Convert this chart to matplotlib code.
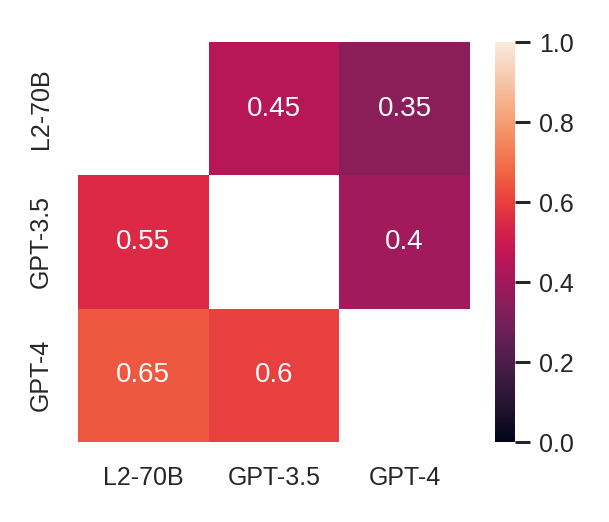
import numpy as np
import matplotlib
matplotlib.use("Agg")
import matplotlib.pyplot as plt
import seaborn as sns

labels = ["L2-70B", "GPT-3.5", "GPT-4"]
values = [
    [np.nan, 0.45, 0.35],
    [0.55, np.nan, 0.4],
    [0.65, 0.6, np.nan],
]

sns.set_theme(style="white")
plt.rcParams["font.family"] = ["Liberation Sans", "DejaVu Sans"]

data = np.array(values)
mask = np.isnan(data)

fig = plt.figure(figsize=(6.09, 5.22), dpi=100)
ax = fig.add_axes([78 / 609, 80 / 522, 392 / 609, 400 / 522])
cax = fig.add_axes([495 / 609, 80 / 522, 20 / 609, 400 / 522])

sns.heatmap(data, mask=mask, annot=True, fmt="g", cmap="rocket", vmin=0, vmax=1,
            xticklabels=labels, yticklabels=labels, ax=ax, cbar_ax=cax,
            annot_kws={"size": 20, "color": "white"})

ax.tick_params(axis="both", length=0, labelsize=18, colors=".15")
ax.tick_params(axis="x", pad=17)
ax.tick_params(axis="y", pad=18)
ax.set_yticklabels(labels, rotation=90, va="center")

cax.yaxis.set_ticks([0, 0.2, 0.4, 0.6, 0.8, 1.0])
cax.yaxis.set_ticklabels(["0.0", "0.2", "0.4", "0.6", "0.8", "1.0"])
cax.tick_params(axis="y", right=True, length=10.5, width=2.2, color=".15",
                labelsize=18, labelcolor=".15", pad=7)
for s in cax.spines.values():
    s.set_visible(False)

fig.savefig("out.png", dpi=100)
